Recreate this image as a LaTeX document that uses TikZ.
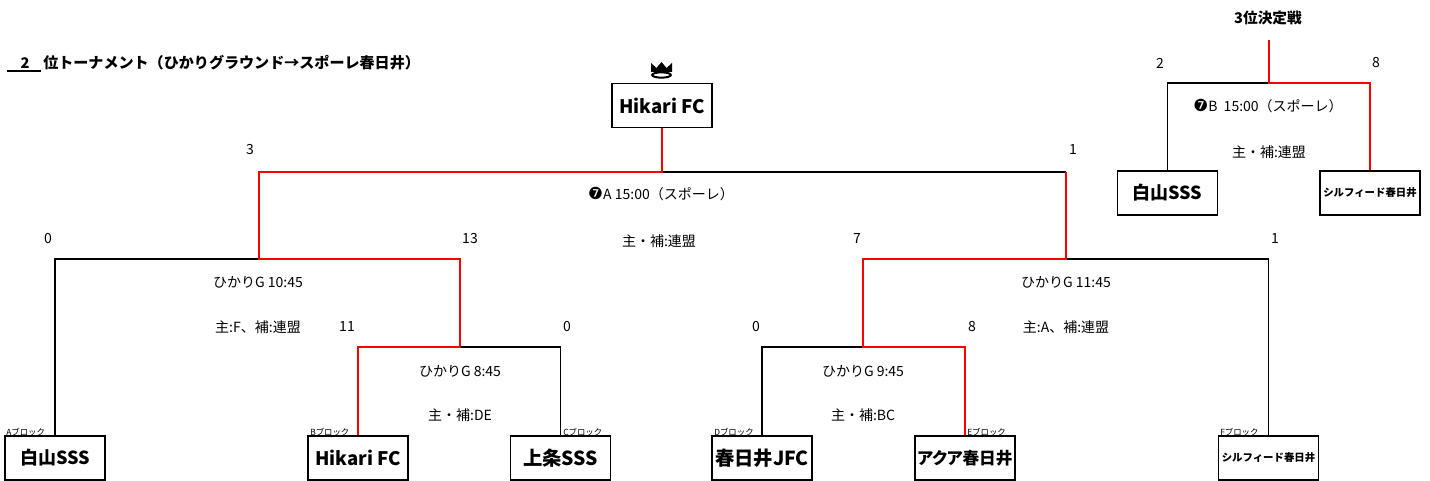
\documentclass[tikz,border=0pt]{standalone}
\usepackage{fontspec}
\setmainfont{Noto Sans CJK JP}
\newfontfamily\pf{Noto Sans CJK JP}[RawFeature={+palt}]
\newfontfamily\dv{DejaVu Sans}
\newcommand{\sev}[1]{{\dv\fontsize{12.5}{13}\selectfont ❼}#1}
\begin{document}
\begin{tikzpicture}[x=0.75pt,y=-0.75pt,
  blk/.style={draw=black,line width=0.9pt},
  redl/.style={draw=red,line width=1.6pt},
  team/.style={draw=black,line width=0.9pt,fill=white,minimum width=75pt,minimum height=33pt,inner sep=0pt,font=\pf\bfseries\fontsize{13.5}{15}\selectfont},
  smallteam/.style={team,font=\bfseries\fontsize{7.8}{9}\selectfont},
  lbl/.style={inner sep=0pt,font=\fontsize{10.5}{12}\selectfont},
  blab/.style={inner sep=0pt,anchor=base west,font=\fontsize{6.3}{7}\selectfont},
  bold/.style={inner sep=0pt,font=\bfseries\fontsize{11}{13}\selectfont},
]
\useasboundingbox (0,0) rectangle (1430,481);
% title
\node[bold,anchor=west,font=\bfseries\fontsize{11.3}{13}\selectfont] (title) at (43,63) {位トーナメント（ひかりグラウンド→スポーレ春日井）};
\node[bold] (t2) at (25,63) {2};
\draw[line width=0.9pt] (7,71) -- (41,71);
\node[bold] (third) at (1268,18) {3位決定戦};
% teams
\node[team] (A) at (55,458) {白山SSS};
\node[team,font=\pf\bfseries\fontsize{14}{15}\selectfont] (B) at (358,458) {Hikari FC};
\node[team,font=\pf\bfseries\fontsize{14.5}{15}\selectfont] (C) at (560.5,458) {上条SSS};
\node[team,font=\pf\bfseries\fontsize{14.5}{15}\selectfont] (D) at (762,458) {春日井JFC};
\node[team,font=\pf\bfseries\fontsize{12.5}{15}\selectfont] (E) at (965,458) {アクア春日井};
\node[smallteam] (F) at (1268.5,458) {シルフィード春日井};
\node[team,font=\pf\bfseries\fontsize{14}{15}\selectfont] (W) at (662,105.5) {Hikari FC};
\node[team] (T1) at (1167.5,193) {白山SSS};
\node[smallteam] (T2) at (1370,193) {シルフィード春日井};
% block labels
\node[blab] (la) at (6,435) {Aブロック};
\node[blab] (lb) at (310,435) {Bブロック};
\node[blab] (lc) at (563,435) {Cブロック};
\node[blab] (ld) at (714,435) {Dブロック};
\node[blab] (le) at (967,435) {Eブロック};
\node[blab] (lf) at (1220,435) {Fブロック};
% junctions
\coordinate (bc) at (460,347);
\coordinate (bcT) at (460,259);
\coordinate (abc) at (259,259);
\coordinate (abcT) at (259,172);
\coordinate (de) at (863,347);
\coordinate (deT) at (863,259);
\coordinate (def) at (1066,259);
\coordinate (defT) at (1066,172);
\coordinate (fin) at (662,172);
\coordinate (tp) at (1269,83);
\coordinate (tpT) at (1269,40);
% black lines
\draw[blk] (A.north) |- (abc);
\draw[blk] (C.north) |- (bc);
\draw[blk] (D.north) |- (de);
\draw[blk] (F.north) |- (def);
\draw[blk] (defT) -- (fin);
\draw[blk] (T1.north) |- (tp);
% red lines
\draw[redl] (B.north) |- (bc) -- (bcT) -- (abc) -- (abcT) -- (fin) -- (W.south);
\draw[redl] (E.north) |- (de) -- (deT) -- (def) -- (defT);
\draw[redl] (T2.north) |- (tp) -- (tpT);
% crown
\fill (651,72) -- (651,63) -- (656.5,68) -- (661.5,62) -- (666.5,68) -- (672,63) -- (672,72) -- cycle;
\draw[line width=1.5pt,fill=white] (661.5,75) ellipse [x radius=7pt,y radius=2pt];
% scores
\node[lbl] (s1) at (250,150) {3};
\node[lbl] (s2) at (1073,150) {1};
\node[lbl] (s3) at (1160,63) {2};
\node[lbl] (s4) at (1376,63) {8};
\node[lbl] (s5) at (48,239) {0};
\node[lbl] (s6) at (470,239) {13};
\node[lbl] (s7) at (857,239) {7};
\node[lbl] (s8) at (1275,239) {1};
\node[lbl] (s9) at (347,327) {11};
\node[lbl] (s10) at (567,327) {0};
\node[lbl] (s11) at (756,327) {0};
\node[lbl] (s12) at (972,327) {8};
% match info
\node[lbl] (m1) at (1268,106) {\sev{B}\ \ 15:00（スポーレ）};
\node[lbl] (m1b) at (1269,152) {主・補:連盟};
\node[lbl] (m2) at (661,194) {\sev{A} 15:00（スポーレ）};
\node[lbl] (m2b) at (659,241) {主・補:連盟};
\node[lbl] (m3) at (258,282) {ひかりG 10:45};
\node[lbl] (m3b) at (258,327) {主:F、補:連盟};
\node[lbl] (m4) at (460,371) {ひかりG 8:45};
\node[lbl] (m4b) at (460,415) {主・補:DE};
\node[lbl] (m5) at (863,371) {ひかりG 9:45};
\node[lbl] (m5b) at (863,415) {主・補:BC};
\node[lbl] (m6) at (1066,282) {ひかりG 11:45};
\node[lbl] (m6b) at (1066,327) {主:A、補:連盟};
\end{tikzpicture}
\end{document}
